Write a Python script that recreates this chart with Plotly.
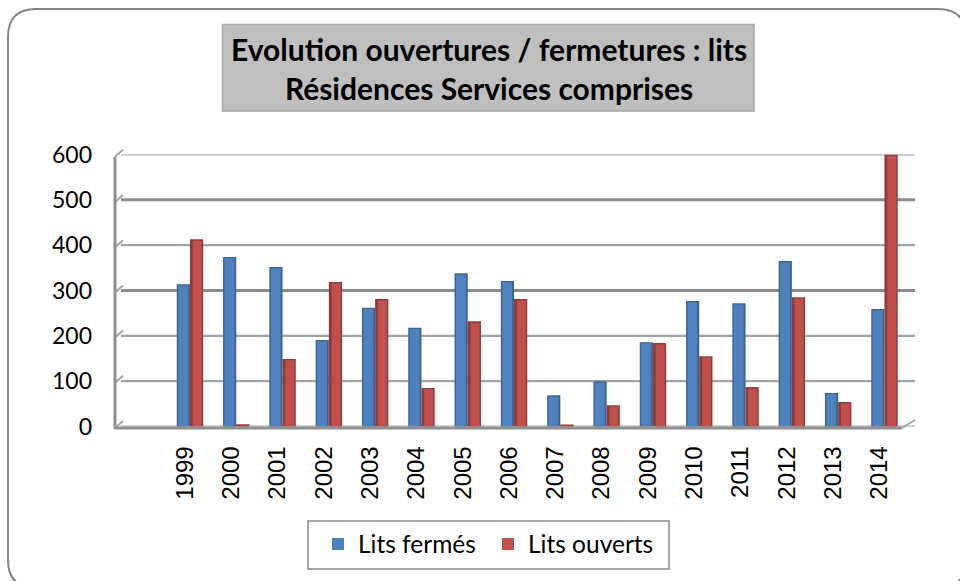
import plotly.graph_objects as go

years = list(range(1999, 2015))
lits_fermes = [314, 374, 352, 191, 262, 218, 338, 321, 69, 100, 186, 277, 272, 365, 74, 259]
lits_ouverts = [413, 5, 149, 319, 281, 85, 232, 281, 4, 47, 184, 155, 87, 285, 54, 600]
y_ticks = [0, 100, 200, 300, 400, 500, 600]
thick_grid = [300, 500]
title_lines = ["Evolution ouvertures / fermetures : lits", "Résidences Services comprises"]

W, H = 960, 581
fx = lambda p: p / W
fy = lambda p: 1 - p / H

BLUE, BLUE_D = "#4F81BD", "#3A6494"
RED, RED_D = "#C0504D", "#8E3B39"
GRID = "#a3a3a3"
AXIS = "#8f8f8f"
FONT = "Lato, Carlito, sans-serif"
TICKFONT = "Liberation Sans, Arial, sans-serif"
CAP = 3  # depth of the darker top of each bar, in value units

fig = go.Figure()
BW = 0.285
for name, vals, off, main, dark, ins_l, ins_r in [
    ("Lits fermés", lits_fermes, -BW, BLUE, BLUE_D, 0.03, 0.04),
    ("Lits ouverts", lits_ouverts, 0, RED, RED_D, 0.06, 0.03),
]:
    fig.add_trace(go.Bar(x=years, y=vals, width=BW, offset=off, marker=dict(color=dark, line_width=0),
                         showlegend=False, hoverinfo="skip"))
    fig.add_trace(go.Bar(x=years, y=[max(v - CAP, 0) for v in vals], width=BW - ins_l - ins_r, offset=off + ins_l,
                         marker=dict(color=main, line_width=0), name=name, showlegend=True,
                         customdata=vals, hovertemplate="%{x}: %{customdata}<extra>" + name + "</extra>"))

shapes = []
L, T, R, B, r = 8, 9, 966, 588, 28
card = (f"M{fx(L)},{fy(T + r)} Q{fx(L)},{fy(T)} {fx(L + r)},{fy(T)} L{fx(R - r)},{fy(T)} "
        f"Q{fx(R)},{fy(T)} {fx(R)},{fy(T + r)} L{fx(R)},{fy(B - r)} Q{fx(R)},{fy(B)} {fx(R - r)},{fy(B)} "
        f"L{fx(L + r)},{fy(B)} Q{fx(L)},{fy(B)} {fx(L)},{fy(B - r)} Z")
shapes.append(dict(type="path", path=card, xref="paper", yref="paper", line=dict(color="#858585", width=2),
                   fillcolor="white", layer="below"))
shapes.append(dict(type="rect", xref="paper", yref="paper", x0=fx(222.5), x1=fx(754), y0=fy(24.5), y1=fy(111),
                   fillcolor="#BFBFBF", line=dict(color="#A6A6A6", width=1.5), layer="below"))
shapes.append(dict(type="rect", xref="paper", yref="paper", x0=fx(308), x1=fx(669), y0=fy(521), y1=fy(569),
                   fillcolor="white", line=dict(color="#A6A6A6", width=2), layer="below"))
for v in y_ticks:
    shapes.append(dict(type="line", xref="paper", yref="y2", x0=fx(121), x1=fx(915), y0=v, y1=v,
                       line=dict(color="#8c8c8c" if v in thick_grid else GRID, width=3 if v in thick_grid else 2.2),
                       layer="below"))
for i, v in enumerate(y_ticks):
    py = 428 - i * 45.2
    shapes.append(dict(type="line", xref="paper", yref="paper", x0=fx(115), x1=fx(123), y0=fy(py), y1=fy(py - 7),
                       line=dict(color=GRID, width=2), layer="below"))
shapes.append(dict(type="line", xref="paper", yref="paper", x0=fx(115), x1=fx(115), y0=fy(157), y1=fy(429),
                   line=dict(color=AXIS, width=3), layer="below"))
shapes.append(dict(type="line", xref="paper", yref="paper", x0=fx(114), x1=fx(902), y0=fy(428), y1=fy(428),
                   line=dict(color=AXIS, width=3), layer="below"))
shapes.append(dict(type="line", xref="paper", yref="paper", x0=fx(902), x1=fx(915), y0=fy(428), y1=fy(420),
                   line=dict(color=GRID, width=2), layer="below"))

ann = [dict(text="<b>" + title_lines[0] + "</b><br><b>" + title_lines[1] + "</b>", xref="paper", yref="paper",
            x=fx(489), y=fy(69), xanchor="center", yanchor="middle", showarrow=False, align="center",
            font=dict(family=FONT, size=30, color="black"))]

fig.update_layout(
    width=W, height=H, margin=dict(l=0, r=0, t=0, b=0, autoexpand=False), autosize=False,
    paper_bgcolor="white", plot_bgcolor="rgba(0,0,0,0)",
    barmode="overlay", showlegend=True, shapes=shapes, annotations=ann,
    xaxis=dict(domain=[fx(120.5), fx(907.6)], range=[years[0] - 1.5, years[-1] + 0.5], tickmode="array",
               tickvals=years, ticktext=[str(y) for y in years], tickangle=-90, showgrid=False, zeroline=False,
               showline=False, ticks="", ticklabelshift=-5, ticklabelstandoff=14,
               tickfont=dict(family=TICKFONT, size=24, color="black")),
    yaxis=dict(domain=[fy(426.5), fy(154.5)], range=[0, 600], tickmode="array", tickvals=y_ticks,
               showgrid=False, zeroline=False, showline=False, ticks="", anchor="free", position=fx(92),
               tickfont=dict(family=FONT, size=23, color="black")),
    yaxis2=dict(domain=[fy(420), fy(149)], range=[0, 600], overlaying="y", visible=False, showgrid=False),
    legend=dict(orientation="h", x=fx(318), xanchor="left", y=fy(544), yanchor="middle",
                bgcolor="rgba(0,0,0,0)", borderwidth=0, entrywidth=125, entrywidthmode="pixels",
                font=dict(family=FONT, size=24.5, color="black"), traceorder="normal", itemwidth=30,
                itemclick=False, itemdoubleclick=False),
)

fig.write_html("out.html", config={"displayModeBar": False},
               post_script="document.body.style.margin='0';document.documentElement.style.overflow='hidden';")
